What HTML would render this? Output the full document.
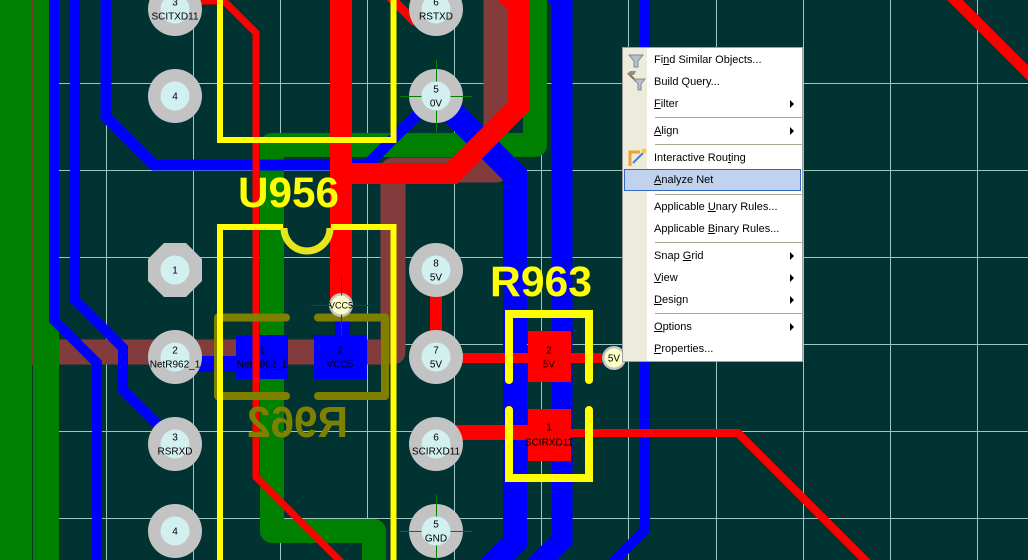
<!DOCTYPE html>
<html><head><meta charset="utf-8">
<style>
html,body{margin:0;padding:0;}
body{width:1028px;height:560px;overflow:hidden;background:#013332;position:relative;font-family:"Liberation Sans",sans-serif;}
svg{position:absolute;left:0;top:0;}
.mi{position:absolute;left:654px;font-size:11px;line-height:14px;color:#000;white-space:nowrap;}
.ar{position:absolute;left:790px;width:0;height:0;border-left:4px solid #000;border-top:4px solid transparent;border-bottom:4px solid transparent;}
.sep{position:absolute;left:655px;width:147px;height:1px;background:#aca899;}
</style></head><body>
<svg width="1028" height="560" viewBox="0 0 1028 560">
<!-- grid -->
<g stroke="#9fc5bf" stroke-width="1">
<line x1="106.5" y1="0" x2="106.5" y2="560"/><line x1="193.5" y1="0" x2="193.5" y2="560"/>
<line x1="280.5" y1="0" x2="280.5" y2="560"/><line x1="367.5" y1="0" x2="367.5" y2="560"/>
<line x1="454.5" y1="0" x2="454.5" y2="560"/><line x1="541.5" y1="0" x2="541.5" y2="560"/>
<line x1="628.5" y1="0" x2="628.5" y2="560"/><line x1="716.5" y1="0" x2="716.5" y2="560"/>
<line x1="803.5" y1="0" x2="803.5" y2="560"/><line x1="890.5" y1="0" x2="890.5" y2="560"/>
<line x1="977.5" y1="0" x2="977.5" y2="560"/>
<line x1="0" y1="83.5" x2="1028" y2="83.5"/><line x1="0" y1="170.5" x2="1028" y2="170.5"/>
<line x1="0" y1="257.5" x2="1028" y2="257.5"/><line x1="0" y1="344.5" x2="1028" y2="344.5"/>
<line x1="0" y1="431.5" x2="1028" y2="431.5"/><line x1="0" y1="518.5" x2="1028" y2="518.5"/>
</g>
<!-- brown -->
<path d="M496,0 V170 H393 V352 H40" stroke="#823c3c" stroke-width="25" fill="none" stroke-linejoin="round"/>
<!-- green -->
<rect x="0" y="0" width="59" height="560" fill="#008000"/>
<line x1="32.5" y1="0" x2="32.5" y2="365" stroke="#7a3a2a" stroke-width="1"/>
<line x1="32.5" y1="365" x2="32.5" y2="560" stroke="#0b3a2a" stroke-width="1"/>
<path d="M535,0 V145 H272 V531 H374 V570" stroke="#008000" stroke-width="24" fill="none" stroke-linejoin="round"/>
<!-- blue traces -->
<g stroke="#0000ff" fill="none" stroke-linejoin="miter">
<path d="M54,0 V320 L97,363 V570" stroke-width="10"/>
<path d="M75,0 V300 L123,348 V390 L175,442" stroke-width="10"/>
<path d="M106,0 V117 L154,165 H367 L436,96" stroke-width="11"/>
<path d="M436,96 L515,175 V542 L490,567" stroke-width="24"/>
<path d="M535,-27 L562,0 V540 L535,567" stroke-width="21"/>
<path d="M645,0 V530 L610,565" stroke-width="10"/>
</g>
<rect x="195" y="356" width="41" height="16" fill="#0000ff"/>
<rect x="335" y="317" width="15" height="20" fill="#0000ff"/>
<!-- R962 blue pads -->
<rect x="236" y="335" width="52" height="44" fill="#0000ff"/>
<rect x="314" y="335" width="53" height="44" fill="#0000ff"/>
<!-- red traces -->
<rect x="330" y="0" width="22" height="300" fill="#ff0000"/>
<polygon points="498,0 530,0 530,110 457,184 345,184 345,163 447,163 508,102 508,10" fill="#ff0000"/>
<g stroke="#ff0000" fill="none">
<path d="M195,1 H224 L256,33 V477 L345,566" stroke-width="7"/>
<path d="M388,-5 L416,23" stroke-width="9"/>
<path d="M436,270 V357" stroke-width="12"/>
<path d="M436,358 H602" stroke-width="10"/>
<path d="M436,432.5 H530" stroke-width="15"/>
<path d="M560,433 H738 L868,563" stroke-width="8"/>
<path d="M945,-10 L1045,90" stroke-width="11"/>
</g>
<rect x="528" y="331" width="43" height="51" fill="#ff0000"/>
<rect x="528" y="409" width="43" height="52" fill="#ff0000"/>
<!-- R962 olive silkscreen (bottom) -->
<g stroke="#808000" stroke-width="8" fill="none" stroke-linecap="round" stroke-linejoin="round">
<path d="M286,317.5 H218 V396 H286"/>
<path d="M318,317.5 H385 V396 H318"/>
</g>
<g transform="translate(595,0) scale(-1,1)">
<text x="247" y="437" font-family="Liberation Sans, sans-serif" font-weight="bold" font-size="44" fill="#808000" textLength="101" lengthAdjust="spacingAndGlyphs">R962</text>
</g>
<!-- yellow silkscreen -->
<g stroke="#ffff00" fill="none">
<path d="M220,0 V140 H393.5 V0" stroke-width="6"/>
<path d="M220,565 V227 H283 M331,227 H393.5 V565" stroke-width="6"/>
<path d="M284,228 A23,23 0 0 0 330,228" stroke="#e6e61a" stroke-width="7"/>
<path d="M509,380 V314 H589 V380" stroke-width="8" stroke-linecap="round"/>
<path d="M509,410 V478 H589 V410" stroke-width="8" stroke-linecap="round"/>
</g>
<text x="238" y="207" font-family="Liberation Sans, sans-serif" font-weight="bold" font-size="43" fill="#ffff00" textLength="101" lengthAdjust="spacingAndGlyphs">U956</text>
<text x="490" y="296" font-family="Liberation Sans, sans-serif" font-weight="bold" font-size="43" fill="#ffff00" textLength="102" lengthAdjust="spacingAndGlyphs">R963</text>
<!-- THT pads -->
<g>
<circle cx="175" cy="9" r="27" fill="#c3c3c3"/><circle cx="175" cy="9" r="14.5" fill="#d2f0f0"/>
<circle cx="175" cy="96" r="27" fill="#c3c3c3"/><circle cx="175" cy="96" r="14.5" fill="#d2f0f0"/>
<polygon points="164,243 186,243 202,259 202,281 186,297 164,297 148,281 148,259" fill="#c3c3c3"/><circle cx="175" cy="270" r="14.5" fill="#d2f0f0"/>
<circle cx="175" cy="357" r="27" fill="#c3c3c3"/><circle cx="175" cy="357" r="14.5" fill="#d2f0f0"/>
<circle cx="175" cy="444" r="27" fill="#c3c3c3"/><circle cx="175" cy="444" r="14.5" fill="#d2f0f0"/>
<circle cx="175" cy="531" r="27" fill="#c3c3c3"/><circle cx="175" cy="531" r="14.5" fill="#d2f0f0"/>
<circle cx="436" cy="9" r="27" fill="#c3c3c3"/><circle cx="436" cy="9" r="14.5" fill="#d2f0f0"/>
<circle cx="436" cy="96" r="27" fill="#c3c3c3"/>
<g stroke="#008000" stroke-width="1"><line x1="400" y1="96.5" x2="472" y2="96.5"/><line x1="436.5" y1="60" x2="436.5" y2="132"/></g>
<circle cx="436" cy="96" r="14.5" fill="#d2f0f0"/>
<circle cx="436" cy="270" r="27" fill="#c3c3c3"/><circle cx="436" cy="270" r="14.5" fill="#d2f0f0"/>
<circle cx="436" cy="357" r="27" fill="#c3c3c3"/><circle cx="436" cy="357" r="14.5" fill="#d2f0f0"/>
<circle cx="436" cy="444" r="27" fill="#c3c3c3"/><circle cx="436" cy="444" r="14.5" fill="#d2f0f0"/>
<circle cx="436" cy="531" r="27" fill="#c3c3c3"/>
<g stroke="#008000" stroke-width="1"><line x1="400" y1="531.5" x2="472" y2="531.5"/><line x1="436.5" y1="495" x2="436.5" y2="567"/></g>
<circle cx="436" cy="531" r="14.5" fill="#d2f0f0"/>
</g>
<!-- vias -->
<circle cx="341" cy="305" r="12" fill="#c3c3c3"/>
<g stroke="#b00000" stroke-width="1"><line x1="311" y1="305.5" x2="371" y2="305.5"/><line x1="341.5" y1="275" x2="341.5" y2="335"/></g>
<circle cx="341" cy="305" r="9.5" fill="#ffffc8"/>
<circle cx="614" cy="358" r="12" fill="#c3c3c3"/><circle cx="614" cy="358" r="9.5" fill="#ffffc8"/>
<!-- labels -->
<g font-family="Liberation Sans, sans-serif" font-size="10" fill="#000" text-anchor="middle">
<text x="175" y="5.5">3</text><text x="175" y="19.5">SCITXD11</text>
<text x="175" y="99.5">4</text>
<text x="175" y="273.5">1</text>
<text x="175" y="353.5">2</text><text x="175" y="367.5">NetR962_1</text>
<text x="175" y="440.5">3</text><text x="175" y="454.5">RSRXD</text>
<text x="175" y="534.5">4</text>
<text x="436" y="5.5">6</text><text x="436" y="19.5">RSTXD</text>
<text x="436" y="92.5">5</text><text x="436" y="106.5">0V</text>
<text x="436" y="266.5">8</text><text x="436" y="280.5">5V</text>
<text x="436" y="353.5">7</text><text x="436" y="367.5">5V</text>
<text x="436" y="440.5">6</text><text x="436" y="454.5">SCIRXD11</text>
<text x="436" y="527.5">5</text><text x="436" y="541.5">GND</text>
<text x="262" y="353.5">1</text><text x="262" y="367.5">NetR962_1</text>
<text x="340" y="353.5">2</text><text x="340" y="367.5">VCC5</text>
<text x="549" y="353.5">2</text><text x="549" y="367.5">5V</text>
<text x="549" y="430.5">1</text><text x="549" y="445.5">SCIRXD11</text>
<text x="341" y="308.5" font-size="9">VCC5</text>
<text x="614" y="361.5">5V</text>
</g>
<!-- red thin passes over pad label -->
<line x1="256" y1="340" x2="256" y2="375" stroke="#ff0000" stroke-width="7"/>
</svg>

<!-- context menu -->
<div style="position:absolute;left:622px;top:47px;width:179px;height:313px;border:1px solid #a0a0a0;background:#fff;"></div>
<div style="position:absolute;left:623px;top:48px;width:24px;height:313px;background:#edebdc;"></div>
<div style="position:absolute;left:624px;top:169px;width:175px;height:20px;border:1px solid #316ac5;background:#c1d2ee;"></div>
<svg width="1028" height="560" viewBox="0 0 1028 560" style="pointer-events:none">
<polygon points="629,55 643,55 638,61 638,67 634,67 634,61" fill="#b4c0cc" stroke="#7d8b99" stroke-width="1"/>
<line x1="628" y1="73" x2="637" y2="82" stroke="#8a6a3a" stroke-width="2"/>
<polygon points="630,71 636,71 634,75 628,75" fill="#8c8c8c"/>
<polygon points="634,79 645,79 641,84 641,90 638,90 638,84" fill="#b4c0cc" stroke="#7d8b99" stroke-width="1"/>
<path d="M630,166 V152 H640" stroke="#f0a030" stroke-width="3" fill="none"/>
<line x1="633" y1="163" x2="643" y2="153" stroke="#4a7ad0" stroke-width="2"/>
<circle cx="644" cy="151" r="2.5" fill="#f4d040"/>
</svg>
<div class="mi" style="top:53px">Fi<u>n</u>d Similar Objects...</div>
<div class="mi" style="top:75px">Build Query...</div>
<div class="mi" style="top:97px"><u>F</u>ilter</div>
<div class="ar" style="top:100px"></div>
<div class="sep" style="top:117px"></div>
<div class="mi" style="top:124px"><u>A</u>lign</div>
<div class="ar" style="top:127px"></div>
<div class="sep" style="top:144px"></div>
<div class="mi" style="top:151px">Interactive Rou<u>t</u>ing</div>
<div class="mi" style="top:173px"><u>A</u>nalyze Net</div>
<div class="sep" style="top:194px"></div>
<div class="mi" style="top:200px">Applicable <u>U</u>nary Rules...</div>
<div class="mi" style="top:222px">Applicable <u>B</u>inary Rules...</div>
<div class="sep" style="top:242px"></div>
<div class="mi" style="top:249px">Snap <u>G</u>rid</div>
<div class="ar" style="top:252px"></div>
<div class="mi" style="top:271px"><u>V</u>iew</div>
<div class="ar" style="top:274px"></div>
<div class="mi" style="top:293px"><u>D</u>esign</div>
<div class="ar" style="top:296px"></div>
<div class="sep" style="top:313px"></div>
<div class="mi" style="top:320px"><u>O</u>ptions</div>
<div class="ar" style="top:323px"></div>
<div class="mi" style="top:342px"><u>P</u>roperties...</div>
</body></html>
